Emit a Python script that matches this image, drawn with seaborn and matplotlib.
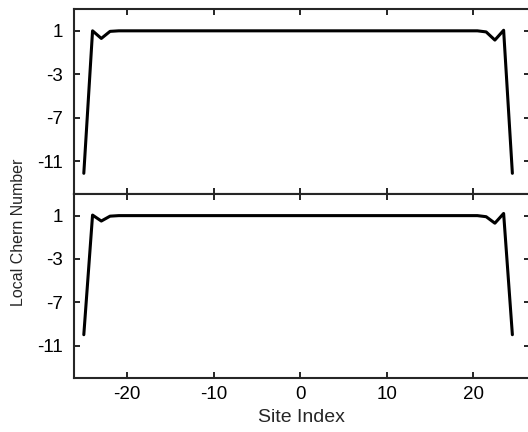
import numpy as np
import pandas as pd
import seaborn as sns
import matplotlib.pyplot as plt

# site positions (50 sites) and local Chern number for both panels
sites = np.linspace(-25, 24.5, 50)
chern_top = [-12.1, 1.0, 0.3, 0.95] + [1.0] * 42 + [0.9, 0.15, 1.05, -12.1]
chern_bottom = [-10.0, 1.05, 0.5, 0.95] + [1.0] * 42 + [0.9, 0.3, 1.2, -10.0]
yticks = [1, -3, -7, -11]
xticks = [-20, -10, 0, 10, 20]

df_top = pd.DataFrame({"site": sites, "chern": chern_top})
df_bot = pd.DataFrame({"site": sites, "chern": chern_bottom})

sns.set_style("ticks")
plt.rcParams["font.family"] = ["Liberation Sans", "DejaVu Sans"]
plt.rcParams["axes.unicode_minus"] = False

fig = plt.figure(figsize=(5.28, 4.32), dpi=100)
ax1 = fig.add_axes([0.1402, 0.551, 0.863, 0.428])
ax2 = fig.add_axes([0.1402, 0.125, 0.863, 0.426])

for ax, d in [(ax1, df_top), (ax2, df_bot)]:
    sns.lineplot(data=d, x="site", y="chern", ax=ax, color="black", linewidth=2.2)
    ax.set_xlim(-26.13, 26.5)
    ax.set_ylim(-14, 3)
    ax.set_yticks(yticks)
    ax.set_xticks(xticks)
    ax.set_xlabel("")
    ax.set_ylabel("")
    for s in ax.spines.values():
        s.set_linewidth(1.5)
    ax.tick_params(direction="in", length=4.5, width=1.2, top=True, right=True,
                   labelsize=13.5, colors="black")
    ax.tick_params(axis="y", pad=8)
    ax.tick_params(axis="x", pad=6)

ax1.tick_params(labelbottom=False)
ax2.set_xlabel("Site Index", fontsize=14)
fig.text(0.035, 1 - 232 / 432, "Local Chern Number", rotation=90,
         ha="center", va="center", fontsize=11.5)

fig.savefig("out.png", dpi=100)
